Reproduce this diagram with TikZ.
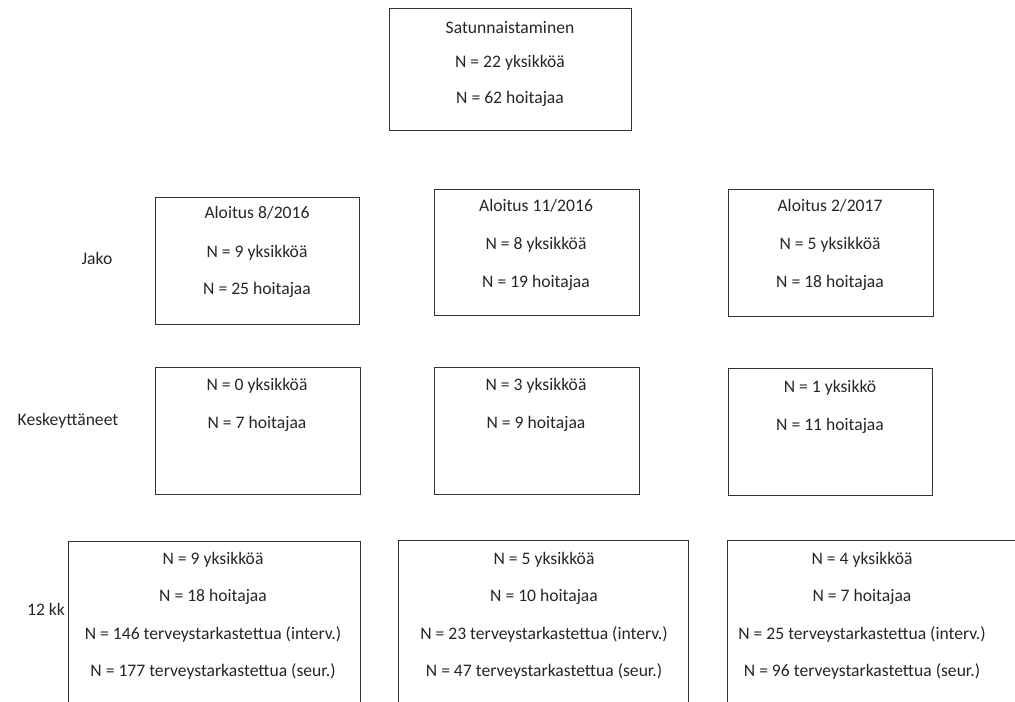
\documentclass[tikz,border=0pt]{standalone}
\usepackage{fontspec}
\setmainfont{Carlito}
\begin{document}
\begin{tikzpicture}[x=0.75pt,y=-0.75pt,
  box/.style={draw=black!80,line width=0.75pt,rectangle,inner sep=0pt,anchor=north west},
  txt/.style={font=\fontsize{13.2pt}{15pt}\selectfont,text=black!85,inner sep=0pt,anchor=center},
  openbox/.style={draw=black!80,line width=0.75pt}]
\useasboundingbox (0,0) rectangle (1015,701);
% top
\node[box,minimum width=181.5pt,minimum height=91.5pt] (top) at (389,8) {};
\node[txt] (t1) at (510,28) {Satunnaistaminen};
\node[txt] (t2) at (510,63) {N = 22 yksikköä};
\node[txt] (t3) at (510,99) {N = 62 hoitajaa};
% row 2
\node[txt] (jako) at (97,258) {Jako};
\node[box,minimum width=153pt,minimum height=95.25pt] (a1) at (155,197) {};
\node[txt] (a1t1) at (257,213) {Aloitus 8/2016};
\node[txt] (a1t2) at (257,253) {N = 9 yksikköä};
\node[txt] (a1t3) at (257,290) {N = 25 hoitajaa};
\node[box,minimum width=153.75pt,minimum height=94.5pt] (a2) at (434,189) {};
\node[txt] (a2t1) at (536,206) {Aloitus 11/2016};
\node[txt] (a2t2) at (536,245) {N = 8 yksikköä};
\node[txt] (a2t3) at (536,283) {N = 19 hoitajaa};
\node[box,minimum width=153.75pt,minimum height=95.25pt] (a3) at (728,189) {};
\node[txt] (a3t1) at (830,206) {Aloitus 2/2017};
\node[txt] (a3t2) at (830,245) {N = 5 yksikköä};
\node[txt] (a3t3) at (830,283) {N = 18 hoitajaa};
% row 3
\node[txt] (kesk) at (68,421) {Keskeyttäneet};
\node[box,minimum width=153.75pt,minimum height=95.25pt] (k1) at (155,367) {};
\node[txt] (k1t1) at (257,386) {N = 0 yksikköä};
\node[txt] (k1t2) at (257,424) {N = 7 hoitajaa};
\node[box,minimum width=153.75pt,minimum height=95.25pt] (k2) at (434,367) {};
\node[txt] (k2t1) at (536,386) {N = 3 yksikköä};
\node[txt] (k2t2) at (536,424) {N = 9 hoitajaa};
\node[box,minimum width=153pt,minimum height=95.25pt] (k3) at (728,368) {};
\node[txt] (k3t1) at (830,388) {N = 1 yksikkö};
\node[txt] (k3t2) at (830,426) {N = 11 hoitajaa};
% row 4
\node[txt] (kk) at (46,609) {12 kk};
\coordinate (b1a) at (68,702); \coordinate (b1b) at (68,541);
\coordinate (b1c) at (360,541); \coordinate (b1d) at (360,702);
\draw[openbox] (b1a) -- (b1b) -- (b1c) -- (b1d);
\node[txt] (b1t1) at (213,560) {N = 9 yksikköä};
\node[txt] (b1t2) at (213,597) {N = 18 hoitajaa};
\node[txt] (b1t3) at (213,634) {N = 146 terveystarkastettua (interv.)};
\node[txt] (b1t4) at (213,671) {N = 177 terveystarkastettua (seur.)};
\coordinate (b2a) at (398,702); \coordinate (b2b) at (398,540);
\coordinate (b2c) at (688,540); \coordinate (b2d) at (688,702);
\draw[openbox] (b2a) -- (b2b) -- (b2c) -- (b2d);
\node[txt] (b2t1) at (544,560) {N = 5 yksikköä};
\node[txt] (b2t2) at (544,597) {N = 10 hoitajaa};
\node[txt] (b2t3) at (544,634) {N = 23 terveystarkastettua (interv.)};
\node[txt] (b2t4) at (544,671) {N = 47 terveystarkastettua (seur.)};
\coordinate (b3a) at (727,702); \coordinate (b3b) at (727,540);
\coordinate (b3c) at (1016,540);
\draw[openbox] (b3a) -- (b3b) -- (b3c);
\node[txt] (b3t1) at (862,560) {N = 4 yksikköä};
\node[txt] (b3t2) at (862,597) {N = 7 hoitajaa};
\node[txt] (b3t3) at (862,634) {N = 25 terveystarkastettua (interv.)};
\node[txt] (b3t4) at (862,671) {N = 96 terveystarkastettua (seur.)};
\end{tikzpicture}
\end{document}
